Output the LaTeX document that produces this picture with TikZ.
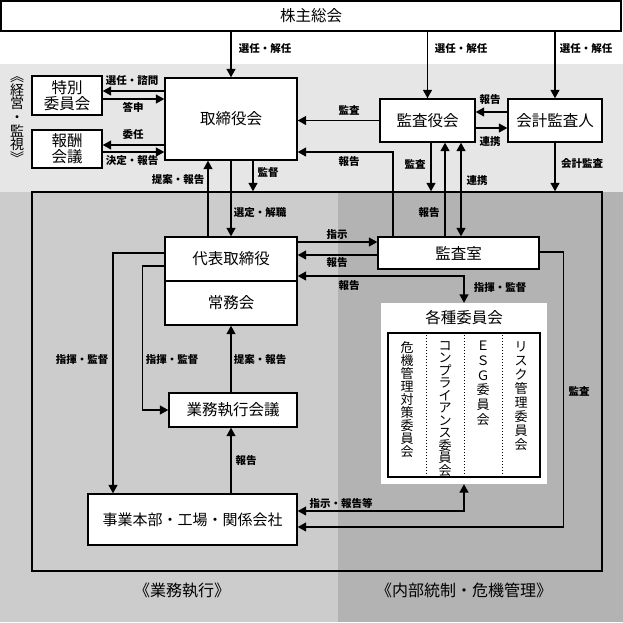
\documentclass[tikz,border=0pt]{standalone}
\usepackage{fontspec}
\setmainfont{Noto Sans CJK JP}
\usetikzlibrary{arrows.meta}
\definecolor{bandgray}{HTML}{E6E6E6}
\definecolor{leftgray}{HTML}{CCCCCC}
\definecolor{rightgray}{HTML}{B3B3B3}

\begin{document}
\begin{tikzpicture}[x=1pt,y=-1pt,
    box/.style={draw,line width=1.4pt,fill=white,inner sep=0pt,font=\fontsize{15.5}{16}\selectfont},
    lbl/.style={inner sep=0pt,font=\fontsize{10.5}{11}\bfseries\selectfont},
    vert/.style={inner sep=0pt,align=center,anchor=north},
    arr/.style={line width=1.4pt,-{Triangle[length=8.5pt,width=9pt]}},
    arrs/.style={line width=1.4pt,{Triangle[length=8.5pt,width=9pt]}-{Triangle[length=8.5pt,width=9pt]}}]
    \useasboundingbox (0,0) rectangle (623,622);
    \fill[white] (0,0) rectangle (623,64);
    \fill[bandgray] (0,64) rectangle (623,192);
    \fill[leftgray] (0,192) rectangle (338,622);
    \fill[rightgray] (338,192) rectangle (623,622);
    \node[draw,line width=1.4pt,minimum width=570pt,minimum height=379pt,inner sep=0pt] (waku) at (317,381.5) {};

    \node[box,minimum width=620pt,minimum height=30pt] (kabunushi) at (311,16) {株主総会};
    \node[box,minimum width=70pt,minimum height=39pt,align=center] (tokubetsu) at (67,95.5) {特別\\委員会};
    \node[box,minimum width=70pt,minimum height=38pt,align=center] (hoshu) at (67,149) {報酬\\会議};
    \node[box,minimum width=132pt,minimum height=82pt] (torishimari) at (231,119) {取締役会};
    \node[box,minimum width=95pt,minimum height=43pt] (kansayaku) at (427.5,120.5) {監査役会};
    \node[box,minimum width=94pt,minimum height=43pt] (kaikei) at (555,120.5) {会計監査人};
    \node[box,minimum width=132pt,minimum height=44pt] (daihyo) at (231,259) {代表取締役};
    \node[box,minimum width=132pt,minimum height=44pt] (jomu) at (231,303) {常務会};
    \node[box,minimum width=161pt,minimum height=32pt] (kansashitsu) at (458.5,253) {監査室};
    \node[box,minimum width=128pt,minimum height=34pt] (gyomu) at (233,410) {業務執行会議};
    \node[box,minimum width=209pt,minimum height=51pt,font=\fontsize{15}{15}\selectfont] (jigyo) at (192.5,519.5) {事業本部・工場・関係会社};

    \node[fill=white,minimum width=166pt,minimum height=181pt,inner sep=0pt] (iinkai) at (464,393.5) {};
    \node[inner sep=0pt,font=\fontsize{15.5}{16}\selectfont] (iintitle) at (464,318) {各種委員会};
    \node[draw,line width=1.4pt,minimum width=152pt,minimum height=144pt,inner sep=0pt] (iinwaku) at (464,405) {};
    \foreach \x in {426,464,502}
        \draw[dotted,line width=1pt] (iinwaku.north -| \x,0) -- (iinwaku.south -| \x,0);
    \node[vert,font=\fontsize{13}{13}\selectfont] (kiki) at (407,341) {危\\機\\管\\理\\対\\策\\委\\員\\会};
    \node[vert,font=\fontsize{13}{12.5}\selectfont] (compliance) at (445,341) {コ\\ン\\プ\\ラ\\イ\\ア\\ン\\ス\\委\\員\\会};
    \node[vert,font=\fontsize{13}{14.7}\selectfont] (esg) at (483,341) {Ｅ\\Ｓ\\Ｇ\\委\\員\\会};
    \node[vert,font=\fontsize{13}{14}\selectfont] (risk) at (521,341) {リ\\ス\\ク\\管\\理\\委\\員\\会};

    \node[inner sep=0pt,align=center,font=\fontsize{14}{13.7}\selectfont] (keiei) at (17,120) {︽\\経\\営\\・\\監\\視\\︾};
    \node[inner sep=0pt,font=\fontsize{16}{16}\selectfont] (shikko) at (182,590) {《業務執行》};
    \node[inner sep=0pt,font=\fontsize{16}{16}\selectfont] (naibu) at (464,590) {《内部統制・危機管理》};

    \draw[arr] (kabunushi.south -| torishimari.north) -- (torishimari.north);
    \draw[arr] (kabunushi.south -| kansayaku.north) -- (kansayaku.north);
    \draw[arr] (kabunushi.south -| kaikei.north) -- (kaikei.north);
    \draw[arr] (torishimari.west |- 0,91) -- (tokubetsu.east |- 0,91);
    \draw[arr] (tokubetsu.east |- 0,99) -- (torishimari.west |- 0,99);
    \draw[arr] (torishimari.west |- 0,145) -- (hoshu.east |- 0,145);
    \draw[arr] (hoshu.east |- 0,152) -- (torishimari.west |- 0,152);
    \draw[arr] (kansayaku.west) -- (torishimari.east |- kansayaku.west);
    \draw[arr] (kansashitsu.north -| 393,0) |- (torishimari.east |- 0,152);
    \draw[arr] (kansayaku.south -| 431,0) -- (431,0 |- waku.north);
    \draw[arr] (kansashitsu.north -| 445,0) -- (kansayaku.south -| 445,0);
    \draw[arrs] (kansayaku.south -| 461,0) -- (kansashitsu.north -| 461,0);
    \draw[arr] (kaikei.west |- 0,112) -- (kansayaku.east |- 0,112);
    \draw[arr] (kansayaku.east |- 0,128) -- (kaikei.west |- 0,128);
    \draw[arr] (kaikei.south) -- (kaikei.south |- waku.north);
    \draw[arr] (torishimari.south) -- (daihyo.north);
    \draw[arr] (daihyo.north -| 208,0) -- (torishimari.south -| 208,0);
    \draw[arr] (torishimari.south -| 253,0) -- (253,0 |- waku.north);
    \draw[arr] (daihyo.east |- 0,242) -- (kansashitsu.west |- 0,242);
    \draw[arr] (kansashitsu.west |- 0,255) -- (daihyo.east |- 0,255);
    \draw[arrs] (daihyo.east |- 0,276) -| (iinkai.north);
    \draw[arr] (kansashitsu.east |- 0,252) -- ++(24,0) |- (jigyo.east |- 0,527);
    \draw[arrs] (iinkai.south) |- (jigyo.east |- 0,511);
    \draw[arr] (daihyo.west |- 0,253) -| (jigyo.north -| 113,0);
    \draw[arr] (daihyo.west |- 0,266) -- ++(-22,0) |- (gyomu.west);
    \draw[arr] (jomu.south |- gyomu.north) -- (jomu.south);
    \draw[arr] (jigyo.north -| 231,0) -- (gyomu.south -| 231,0);

    \node[lbl] (l1) at (265,49) {選任・解任};
    \node[lbl] (l2) at (461,49) {選任・解任};
    \node[lbl] (l3) at (586,49) {選任・解任};
    \node[lbl] (l4) at (132,81) {選任・諮問};
    \node[lbl] (l5) at (133,107) {答申};
    \node[lbl] (l6) at (133,135) {委任};
    \node[lbl] (l7) at (132,161) {決定・報告};
    \node[lbl] (l8) at (178,180) {提案・報告};
    \node[lbl] (l9) at (268,173) {監督};
    \node[lbl] (l10) at (349,110) {監査};
    \node[lbl] (l11) at (349,162) {報告};
    \node[lbl] (l12) at (415,164) {監査};
    \node[lbl] (l13) at (477,181) {連携};
    \node[lbl] (l14) at (490,100) {報告};
    \node[lbl] (l15) at (490,142) {連携};
    \node[lbl] (l16) at (582,164) {会計監査};
    \node[lbl] (l17) at (260,213) {選定・解職};
    \node[lbl] (l18) at (429,213) {報告};
    \node[lbl] (l19) at (337,235) {指示};
    \node[lbl] (l20) at (337,263) {報告};
    \node[lbl] (l21) at (349,286) {報告};
    \node[lbl] (l22) at (500,288) {指揮・監督};
    \node[lbl] (l23) at (579,391) {監査};
    \node[lbl] (l24) at (82,360) {指揮・監督};
    \node[lbl] (l25) at (172,360) {指揮・監督};
    \node[lbl] (l26) at (260,360) {提案・報告};
    \node[lbl] (l27) at (246,461) {報告};
    \node[lbl] (l28) at (341,503) {指示・報告等};
\end{tikzpicture}
\end{document}
